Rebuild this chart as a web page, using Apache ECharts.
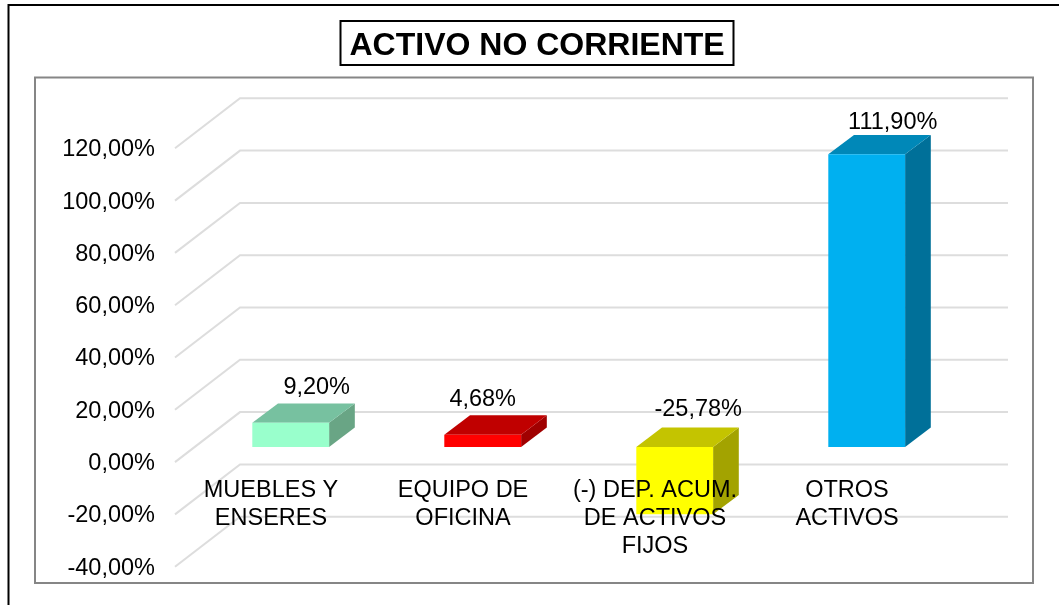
<!DOCTYPE html>
<html>
<head>
<meta charset="utf-8">
<style>html,body{margin:0;padding:0;background:#fff}#c{width:1059px;height:605px}</style>
<script src="https://cdn.jsdelivr.net/npm/echarts@6/dist/echarts.min.js"></script>
</head>
<body>
<div id="c"></div>
<script>
const titleText = 'ACTIVO NO CORRIENTE';
const categories = ['MUEBLES Y\nENSERES', 'EQUIPO DE\nOFICINA', '(-) DEP. ACUM.\nDE ACTIVOS\nFIJOS', 'OTROS\nACTIVOS'];
const values = [9.20, 4.68, -25.78, 111.90];
const ticks = [-40, -20, 0, 20, 40, 60, 80, 100, 120];
const frontColors = ['#99FFCC', '#FF0000', '#FFFF00', '#00B0F0'];
const topColors = ['#77C1A0', '#C00000', '#C4C400', '#0088B8'];
const sideColors = ['#69A585', '#A00000', '#A3A300', '#007099'];

// Layout of the pseudo-3D projection, in pixels
const FONT = '"Liberation Sans", Arial, sans-serif';
const WALL_DX = 65, WALL_DY = -50;
const BAR_DX = 19.7, BAR_DY = -15.2;
const DEPTH_DX = 25.7, DEPTH_DY = -19.4;
const labelNudgeX = [26, 0, 23.5, 26];
const labelNudgeY = [-16, -16, -17.5, -12.5];

const fmt = v => v.toFixed(2).replace('.', ',') + '%';

function renderGrid(params, api) {
  const cs = params.coordSys;
  const y = api.coord([0, api.value(1)])[1];
  return {
    type: 'polyline',
    shape: { points: [[cs.x, y], [cs.x + WALL_DX, y + WALL_DY], [cs.x + cs.width + WALL_DX, y + WALL_DY]] },
    style: { stroke: '#DDDDDD', lineWidth: 2, fill: null }
  };
}

function renderBar(params, api) {
  const i = api.value(0), v = api.value(1);
  const p = api.coord([i, v]), z = api.coord([i, 0]);
  const w = api.size([1, 0])[0] * 0.4;
  const l = p[0] - w / 2 + BAR_DX, r = l + w;
  const yv = p[1] + BAR_DY, y0 = z[1] + BAR_DY;
  const t = Math.min(yv, y0), b = Math.max(yv, y0);
  const side = [[r, t], [r + DEPTH_DX, t + DEPTH_DY], [r + DEPTH_DX, b + DEPTH_DY], [r, b]];
  const top = [[l, t], [l + DEPTH_DX, t + DEPTH_DY], [r + DEPTH_DX, t + DEPTH_DY], [r, t]];
  return {
    type: 'group',
    children: [
      { type: 'polygon', shape: { points: side }, style: { fill: sideColors[i] } },
      { type: 'polygon', shape: { points: top }, style: { fill: topColors[i] } },
      { type: 'rect', shape: { x: l, y: t, width: w, height: b - t }, style: { fill: frontColors[i] } },
      { type: 'text', z2: 5, style: {
          text: fmt(v), x: (l + r) / 2 + labelNudgeX[i], y: t + DEPTH_DY + labelNudgeY[i],
          fill: '#000', font: '23.5px ' + FONT, align: 'center', verticalAlign: 'middle'
      } }
    ]
  };
}

const chart = echarts.init(document.getElementById('c'), null, { renderer: 'canvas' });
chart.setOption({
  animation: false,
  backgroundColor: '#fff',
  title: {
    text: titleText, left: 340.5, top: 20.5,
    padding: [9.5, 9, 2.8, 9],
    borderColor: '#000', borderWidth: 2, backgroundColor: '#fff',
    textStyle: { fontFamily: FONT, fontWeight: 'bold', fontSize: 32, color: '#000' }
  },
  graphic: [
    { type: 'polyline', silent: true, z: -1, shape: { points: [[8.5, 605], [8.5, 5], [1059, 5]] }, style: { stroke: '#000', lineWidth: 2, fill: null } },
    { type: 'rect', silent: true, z: -1, shape: { x: 35, y: 77.5, width: 998, height: 505.5 }, style: { stroke: '#868686', lineWidth: 2, fill: null } }
  ],
  grid: { left: 175, width: 768, top: 148.3, bottom: 38.3, outerBoundsMode: 'none', containLabel: false },
  xAxis: {
    type: 'category', data: categories, z: 10, position: 'bottom', offset: -104.6,
    axisLine: { show: false, onZero: false }, axisTick: { show: false }, splitLine: { show: false },
    axisLabel: { interval: 0, margin: 14, color: '#000', fontFamily: FONT, fontSize: 23.5, lineHeight: 28 }
  },
  yAxis: {
    type: 'value', min: -40, max: 120, interval: 20,
    axisLine: { show: false }, axisTick: { show: false }, splitLine: { show: false },
    axisLabel: { margin: 20, color: '#000', fontFamily: FONT, fontSize: 23.5, verticalAlign: 'top', lineHeight: 3, formatter: fmt }
  },
  series: [
    { type: 'custom', name: 'grid', silent: true, z: 1, renderItem: renderGrid, encode: { x: 0, y: 1 }, data: ticks.map(t => [0, t]) },
    { type: 'custom', name: 'bars', z: 3, renderItem: renderBar, encode: { x: 0, y: 1 }, data: values.map((v, i) => [i, v]) }
  ]
});
</script>
</body>
</html>
